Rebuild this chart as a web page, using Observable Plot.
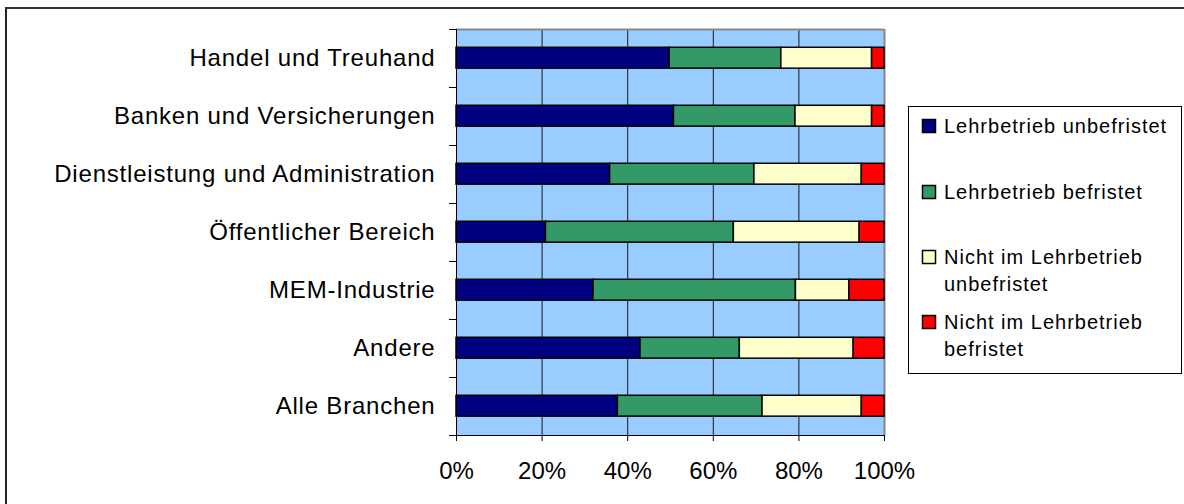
<!DOCTYPE html>
<html>
<head>
<meta charset="utf-8">
<script src="https://cdn.jsdelivr.net/npm/d3@7"></script>
<script src="https://cdn.jsdelivr.net/npm/@observablehq/plot@0.6"></script>
<style>
  html, body { margin: 0; padding: 0; background: #fff; overflow: hidden; }
  body { width: 1184px; height: 504px; position: relative; font-family: "Liberation Sans", Arial, sans-serif; color: #000; }
  #frame { position: absolute; left: 5px; top: 7px; width: 1200px; height: 520px; border-left: 2px solid #222; border-top: 2px solid #333; box-sizing: border-box; }
  #chart { position: absolute; left: 0; top: 0; }
  #legend { position: absolute; left: 0; top: 0; }
</style>
</head>
<body>
<div id="frame"></div>
<div id="chart"></div>
<svg id="legend" width="1184" height="504"></svg>
<script>
const categories = [
  "Handel und Treuhand",
  "Banken und Versicherungen",
  "Dienstleistung und Administration",
  "Öffentlicher Bereich",
  "MEM-Industrie",
  "Andere",
  "Alle Branchen"
];
const series = [
  "Lehrbetrieb unbefristet",
  "Lehrbetrieb befristet",
  "Nicht im Lehrbetrieb unbefristet",
  "Nicht im Lehrbetrieb befristet"
];
const legendLines = [
  ["Lehrbetrieb unbefristet"],
  ["Lehrbetrieb befristet"],
  ["Nicht im Lehrbetrieb", "unbefristet"],
  ["Nicht im Lehrbetrieb", "befristet"]
];
const lehrUnbefristet   = [49.8, 50.8, 35.9, 20.9, 32.0, 43.0, 37.7];
const lehrBefristet     = [26.1, 28.4, 33.7, 43.9, 47.3, 23.2, 33.8];
const nichtUnbefristet  = [21.2, 17.9, 25.1, 29.4, 12.5, 26.6, 23.2];
const nichtBefristet    = [ 2.9,  2.9,  5.3,  5.8,  8.2,  7.2,  5.3];
const xTicks = [0, 20, 40, 60, 80, 100];
const colors = ["#000080", "#339966", "#FFFFCC", "#FF0000"];

const seriesValues = [lehrUnbefristet, lehrBefristet, nichtUnbefristet, nichtBefristet];
const rows = [];
categories.forEach((cat, i) => {
  let acc = 0;
  seriesValues.forEach((vals, s) => {
    rows.push({category: cat, i, series: series[s], x1: acc, x2: acc + vals[i]});
    acc += vals[i];
  });
});

const font = '"Liberation Sans", Arial, sans-serif';

const plot = Plot.plot({
  width: 1184,
  height: 504,
  marginLeft: 456,
  marginRight: 300,
  marginTop: 29,
  marginBottom: 69,
  style: {fontFamily: font, color: "#000", background: "transparent", overflow: "visible"},
  x: {domain: [0, 100], label: null},
  y: {domain: [0, categories.length], reverse: true, label: null},
  color: {domain: series, range: colors},
  marks: [
    Plot.frame({fill: "#99CCFF", stroke: null}),
    Plot.ruleX(xTicks.filter(d => d > 0 && d < 100), {stroke: "#1a1a1a", strokeWidth: 1}),
    Plot.ruleX([100], {stroke: "#888", strokeWidth: 2}),
    Plot.ruleY([0], {stroke: "#888", strokeWidth: 2}),
    Plot.rect(rows, {
      x1: "x1", x2: "x2",
      y1: d => d.i + 0.315, y2: d => d.i + 0.675,
      fill: "series", stroke: "#000", strokeWidth: 1.5
    }),
    Plot.ruleX([0], {stroke: "#000", strokeWidth: 1}),
    Plot.ruleY([categories.length], {stroke: "#000", strokeWidth: 1}),
    Plot.axisX({ticks: xTicks, tickFormat: d => d + "%", tickSize: 6, tickPadding: 20, fontSize: 24, label: null, stroke: "#000"}),
    Plot.axisY({ticks: d3.range(categories.length + 1), tickSize: 7, tickFormat: () => "", label: null, stroke: "#000"}),
    Plot.axisY({ticks: categories.map((c, i) => i + 0.5), tickSize: 0, tickPadding: 21,
      tickFormat: v => categories[Math.floor(v)], fontSize: 24, label: null})
  ]
});
document.getElementById("chart").appendChild(plot);
d3.select(plot).selectAll('g[aria-label="y-axis tick label"] text').attr("letter-spacing", "0.8px");

// Legend
const lg = d3.select("#legend").style("font-family", font);
lg.append("rect").attr("x", 908.5).attr("y", 106.5).attr("width", 273).attr("height", 267)
  .attr("fill", "#fff").attr("stroke", "#000").attr("stroke-width", 1);
const itemBaselines = [132.5, 198.5, 263.5, 328.5];
const lineGap = 27.5;
series.forEach((s, k) => {
  const b = itemBaselines[k];
  lg.append("rect").attr("x", 922.5).attr("y", b - 13).attr("width", 13).attr("height", 13)
    .attr("fill", colors[k]).attr("stroke", "#000").attr("stroke-width", 1.5);
  legendLines[k].forEach((line, j) => {
    lg.append("text").attr("x", 944).attr("y", b + j * lineGap)
      .attr("font-size", 20).attr("letter-spacing", "1px").attr("fill", "#000").text(line);
  });
});
</script>
</body>
</html>
